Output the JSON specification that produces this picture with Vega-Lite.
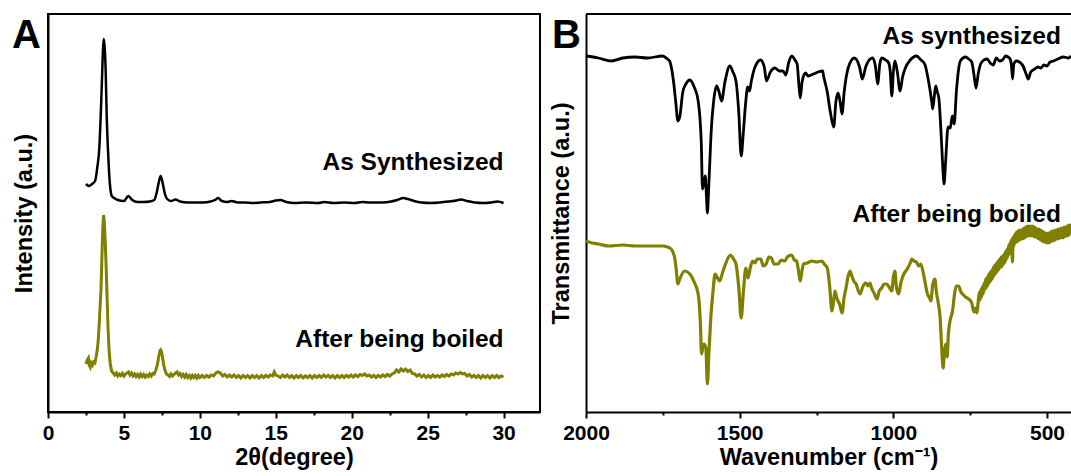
{
  "$schema": "https://vega.github.io/schema/vega-lite/v6.json",
  "background": "white",
  "padding": {"left": 11, "top": 13, "right": 0, "bottom": 0},
  "config": {
    "view": {"stroke": "black", "strokeWidth": 2},
    "font": "Liberation Sans",
    "concat": {"spacing": 8},
    "axis": {
      "grid": false,
      "domainColor": "black", "domainWidth": 2,
      "tickColor": "black", "tickWidth": 2,
      "labelFont": "Liberation Sans", "labelFontWeight": "bold", "labelFontSize": 21, "labelColor": "black",
      "titleFont": "Liberation Sans", "titleFontWeight": "bold", "titleFontSize": 23.5, "titleColor": "black",
      "labelFlush": false, "labelOverlap": false
    },
    "text": {"font": "Liberation Sans", "fontWeight": "bold", "color": "black"}
  },
  "datasets": {
    "xrdAs": [
      {"t":2.5,"v":228},{"t":2.7,"v":226},{"t":2.9,"v":228},{"t":3.1,"v":231},{"t":3.25,"v":245},{"t":3.38,"v":264},{"t":3.48,"v":300},{"t":3.55,"v":330},{"t":3.62,"v":362},{"t":3.67,"v":373},{"t":3.73,"v":365},{"t":3.8,"v":340},{"t":3.86,"v":300},{"t":3.95,"v":262},{"t":4.02,"v":240},{"t":4.1,"v":224},{"t":4.2,"v":216},{"t":4.35,"v":214},{"t":4.6,"v":212},{"t":5.0,"v":211},{"t":5.29,"v":216},{"t":5.55,"v":212},{"t":5.9,"v":210},{"t":6.3,"v":210},{"t":6.7,"v":210.5},{"t":7.0,"v":212},{"t":7.15,"v":219},{"t":7.3,"v":230},{"t":7.42,"v":236},{"t":7.55,"v":229},{"t":7.7,"v":218},{"t":7.85,"v":213},{"t":8.1,"v":211},{"t":8.4,"v":212.5},{"t":8.7,"v":210.5},{"t":9.2,"v":209.5},{"t":9.7,"v":209.5},{"t":10.2,"v":209.5},{"t":10.7,"v":210.5},{"t":11.0,"v":212},{"t":11.2,"v":214},{"t":11.45,"v":211},{"t":11.8,"v":210},{"t":12.1,"v":211},{"t":12.5,"v":209.5},{"t":13.0,"v":209.5},{"t":13.5,"v":209},{"t":14.0,"v":209.5},{"t":14.6,"v":210},{"t":15.0,"v":211.5},{"t":15.3,"v":212},{"t":15.7,"v":210},{"t":16.2,"v":209},{"t":17.0,"v":209.5},{"t":17.8,"v":209},{"t":18.2,"v":210},{"t":18.8,"v":209},{"t":19.5,"v":209.5},{"t":20.2,"v":209},{"t":20.7,"v":210},{"t":21.2,"v":209.5},{"t":22.0,"v":209.5},{"t":22.6,"v":210.5},{"t":23.0,"v":212},{"t":23.4,"v":214},{"t":23.7,"v":213},{"t":24.1,"v":211},{"t":24.6,"v":209.5},{"t":25.2,"v":209},{"t":25.8,"v":209.5},{"t":26.4,"v":210.5},{"t":26.9,"v":211.5},{"t":27.2,"v":212.5},{"t":27.6,"v":211},{"t":28.1,"v":209.5},{"t":28.7,"v":209},{"t":29.2,"v":209.5},{"t":29.6,"v":210.5},{"t":30.0,"v":209}
    ],
    "xrdBoiled": [
      {"t":2.5,"v":48},{"t":2.58,"v":52},{"t":2.66,"v":54},{"t":2.72,"v":47},{"t":2.78,"v":45},{"t":2.85,"v":49},{"t":2.93,"v":47},{"t":3.0,"v":50},{"t":3.09,"v":49},{"t":3.17,"v":55},{"t":3.25,"v":63},{"t":3.31,"v":72},{"t":3.38,"v":90},{"t":3.44,"v":108},{"t":3.49,"v":122},{"t":3.55,"v":155},{"t":3.61,"v":185},{"t":3.66,"v":197},{"t":3.71,"v":190},{"t":3.77,"v":170},{"t":3.83,"v":145},{"t":3.89,"v":115},{"t":3.95,"v":85},{"t":4.02,"v":62},{"t":4.1,"v":48},{"t":4.19,"v":41},{"t":4.3,"v":39},{"t":4.4,"v":37},{"t":4.5,"v":39},{"t":4.6,"v":36},{"t":4.7,"v":38},{"t":4.8,"v":36.5},{"t":4.9,"v":38.5},{"t":5.0,"v":36},{"t":5.1,"v":38},{"t":5.2,"v":39},{"t":5.3,"v":40},{"t":5.4,"v":37},{"t":5.5,"v":39},{"t":5.6,"v":36},{"t":5.7,"v":38},{"t":5.8,"v":35.5},{"t":5.9,"v":37.5},{"t":6.0,"v":35},{"t":6.1,"v":38},{"t":6.2,"v":35.5},{"t":6.3,"v":37.5},{"t":6.4,"v":35},{"t":6.5,"v":37},{"t":6.6,"v":35.5},{"t":6.7,"v":38},{"t":6.8,"v":36},{"t":6.9,"v":38.5},{"t":7.0,"v":38},{"t":7.1,"v":42},{"t":7.2,"v":47},{"t":7.3,"v":56},{"t":7.37,"v":61},{"t":7.42,"v":62},{"t":7.48,"v":60},{"t":7.55,"v":54},{"t":7.62,"v":47},{"t":7.7,"v":42},{"t":7.8,"v":38},{"t":7.9,"v":37},{"t":8.0,"v":35.5},{"t":8.1,"v":38},{"t":8.2,"v":36},{"t":8.3,"v":37.5},{"t":8.4,"v":39},{"t":8.5,"v":40},{"t":8.6,"v":37},{"t":8.7,"v":38.5},{"t":8.8,"v":35.5},{"t":8.9,"v":37.5},{"t":9.0,"v":35},{"t":9.1,"v":37.5},{"t":9.2,"v":34.5},{"t":9.3,"v":36.5},{"t":9.4,"v":34},{"t":9.5,"v":36.5},{"t":9.6,"v":34.5},{"t":9.7,"v":36.5},{"t":9.8,"v":34},{"t":9.9,"v":36.5},{"t":10.0,"v":34.5},{"t":10.15,"v":36.5},{"t":10.3,"v":34.5},{"t":10.45,"v":36.5},{"t":10.6,"v":35},{"t":10.75,"v":37},{"t":10.9,"v":36},{"t":11.05,"v":39},{"t":11.2,"v":40},{"t":11.35,"v":39},{"t":11.5,"v":36},{"t":11.65,"v":37.5},{"t":11.8,"v":35},{"t":11.95,"v":37},{"t":12.1,"v":35},{"t":12.25,"v":37},{"t":12.4,"v":34.5},{"t":12.55,"v":36.5},{"t":12.7,"v":34},{"t":12.85,"v":36.5},{"t":13.0,"v":34.5},{"t":13.15,"v":36.5},{"t":13.3,"v":34},{"t":13.45,"v":36.5},{"t":13.6,"v":34.5},{"t":13.75,"v":36.5},{"t":13.9,"v":34},{"t":14.05,"v":36.5},{"t":14.2,"v":34.5},{"t":14.35,"v":36.5},{"t":14.5,"v":35},{"t":14.65,"v":37},{"t":14.8,"v":36},{"t":14.9,"v":40},{"t":15.0,"v":37},{"t":15.15,"v":36},{"t":15.3,"v":34.5},{"t":15.45,"v":37},{"t":15.6,"v":35},{"t":15.75,"v":37},{"t":15.9,"v":34.5},{"t":16.05,"v":36.5},{"t":16.2,"v":34},{"t":16.35,"v":36.5},{"t":16.5,"v":34.5},{"t":16.65,"v":36.5},{"t":16.8,"v":34},{"t":16.95,"v":36},{"t":17.1,"v":34.5},{"t":17.25,"v":36.5},{"t":17.4,"v":34},{"t":17.55,"v":36.5},{"t":17.7,"v":34.5},{"t":17.85,"v":36.5},{"t":18.0,"v":34.5},{"t":18.15,"v":37},{"t":18.3,"v":35},{"t":18.45,"v":36.5},{"t":18.6,"v":34.5},{"t":18.75,"v":36.5},{"t":18.9,"v":34},{"t":19.05,"v":36.5},{"t":19.2,"v":34.5},{"t":19.35,"v":36.5},{"t":19.5,"v":34.5},{"t":19.65,"v":36.5},{"t":19.8,"v":35},{"t":19.95,"v":37},{"t":20.1,"v":35},{"t":20.25,"v":37},{"t":20.4,"v":35.5},{"t":20.55,"v":37.5},{"t":20.7,"v":36.5},{"t":20.85,"v":38},{"t":21.0,"v":36},{"t":21.15,"v":37},{"t":21.3,"v":35},{"t":21.45,"v":36.5},{"t":21.6,"v":34.5},{"t":21.75,"v":36.5},{"t":21.9,"v":35},{"t":22.05,"v":37},{"t":22.2,"v":35.5},{"t":22.35,"v":37.5},{"t":22.5,"v":36},{"t":22.65,"v":38},{"t":22.8,"v":39},{"t":22.95,"v":42},{"t":23.1,"v":40},{"t":23.25,"v":43},{"t":23.4,"v":41},{"t":23.55,"v":43},{"t":23.7,"v":40.5},{"t":23.85,"v":42},{"t":24.0,"v":38.5},{"t":24.15,"v":38},{"t":24.3,"v":36},{"t":24.45,"v":37.5},{"t":24.6,"v":35},{"t":24.75,"v":37},{"t":24.9,"v":34.5},{"t":25.05,"v":36.5},{"t":25.2,"v":34.5},{"t":25.35,"v":37},{"t":25.5,"v":35},{"t":25.65,"v":36.5},{"t":25.8,"v":35},{"t":25.95,"v":37},{"t":26.1,"v":35.5},{"t":26.25,"v":37.5},{"t":26.4,"v":36},{"t":26.55,"v":38},{"t":26.7,"v":37},{"t":26.85,"v":39},{"t":27.0,"v":38},{"t":27.15,"v":39.5},{"t":27.3,"v":38},{"t":27.45,"v":38.5},{"t":27.6,"v":36},{"t":27.75,"v":37.5},{"t":27.9,"v":35},{"t":28.05,"v":36.5},{"t":28.2,"v":34.5},{"t":28.35,"v":36.5},{"t":28.5,"v":34},{"t":28.65,"v":36.5},{"t":28.8,"v":34.5},{"t":28.95,"v":36.5},{"t":29.1,"v":34},{"t":29.25,"v":36.5},{"t":29.4,"v":34.5},{"t":29.55,"v":36.5},{"t":29.7,"v":34.5},{"t":29.85,"v":36},{"t":30.0,"v":35}
    ],
    "irAs": [
      {"w":2000,"v":356},{"w":1960,"v":354},{"w":1917,"v":351},{"w":1880,"v":354},{"w":1840,"v":355},{"w":1800,"v":354},{"w":1751,"v":356},{"w":1735,"v":353},{"w":1728,"v":351},{"w":1715,"v":330},{"w":1708,"v":310},{"w":1701,"v":291},{"w":1695,"v":295},{"w":1685,"v":320},{"w":1675,"v":328},{"w":1662,"v":332},{"w":1648,"v":325},{"w":1635,"v":311},{"w":1625,"v":270},{"w":1621,"v":223},{"w":1616,"v":230},{"w":1612,"v":236},{"w":1608,"v":215},{"w":1605,"v":199},{"w":1600,"v":230},{"w":1592,"v":284},{"w":1585,"v":310},{"w":1575,"v":326},{"w":1567,"v":320},{"w":1559,"v":311},{"w":1548,"v":330},{"w":1532,"v":346},{"w":1522,"v":340},{"w":1512,"v":331},{"w":1503,"v":300},{"w":1495,"v":256},{"w":1488,"v":280},{"w":1480,"v":311},{"w":1474,"v":325},{"w":1468,"v":321},{"w":1462,"v":331},{"w":1450,"v":345},{"w":1432,"v":352},{"w":1420,"v":345},{"w":1413,"v":331},{"w":1400,"v":340},{"w":1386,"v":344},{"w":1370,"v":341},{"w":1359,"v":341},{"w":1350,"v":337},{"w":1340,"v":350},{"w":1330,"v":356},{"w":1320,"v":352},{"w":1313,"v":348},{"w":1308,"v":330},{"w":1303,"v":314},{"w":1297,"v":330},{"w":1286,"v":339},{"w":1277,"v":336},{"w":1260,"v":338},{"w":1245,"v":340},{"w":1230,"v":341},{"w":1227,"v":336},{"w":1215,"v":320},{"w":1205,"v":300},{"w":1194,"v":285},{"w":1187,"v":310},{"w":1180,"v":319},{"w":1173,"v":310},{"w":1167,"v":298},{"w":1160,"v":320},{"w":1147,"v":344},{"w":1127,"v":354},{"w":1110,"v":345},{"w":1101,"v":333},{"w":1090,"v":345},{"w":1081,"v":351},{"w":1067,"v":354},{"w":1058,"v":345},{"w":1051,"v":328},{"w":1044,"v":348},{"w":1038,"v":354},{"w":1025,"v":352},{"w":1015,"v":349},{"w":1010,"v":340},{"w":1005,"v":316},{"w":1000,"v":340},{"w":995,"v":351},{"w":987,"v":340},{"w":978,"v":321},{"w":970,"v":335},{"w":961,"v":344},{"w":945,"v":352},{"w":925,"v":356},{"w":910,"v":352},{"w":898,"v":348},{"w":885,"v":330},{"w":875,"v":310},{"w":872,"v":303},{"w":866,"v":318},{"w":862,"v":326},{"w":857,"v":320},{"w":852,"v":314},{"w":845,"v":280},{"w":840,"v":250},{"w":835,"v":228},{"w":830,"v":250},{"w":822,"v":285},{"w":815,"v":284},{"w":808,"v":296},{"w":802,"v":288},{"w":795,"v":320},{"w":788,"v":342},{"w":782,"v":351},{"w":765,"v":355},{"w":755,"v":353},{"w":745,"v":350},{"w":738,"v":338},{"w":731,"v":324},{"w":724,"v":338},{"w":716,"v":348},{"w":705,"v":352},{"w":695,"v":353},{"w":685,"v":349},{"w":675,"v":347},{"w":665,"v":354},{"w":655,"v":351},{"w":645,"v":352},{"w":635,"v":356},{"w":627,"v":355},{"w":620,"v":353},{"w":616,"v":347},{"w":612,"v":333},{"w":608,"v":348},{"w":600,"v":351},{"w":590,"v":350},{"w":578,"v":346},{"w":568,"v":338},{"w":561,"v":333},{"w":553,"v":340},{"w":540,"v":343},{"w":530,"v":345},{"w":520,"v":344},{"w":510,"v":347},{"w":500,"v":346},{"w":490,"v":350},{"w":480,"v":351},{"w":465,"v":353},{"w":447,"v":355},{"w":430,"v":354},{"w":422,"v":356}
    ],
    "irBoiled": [
      {"w":2000,"v":171},{"w":1980,"v":169},{"w":1960,"v":168},{"w":1925,"v":166},{"w":1880,"v":167},{"w":1840,"v":166},{"w":1800,"v":166},{"w":1751,"v":166},{"w":1735,"v":165},{"w":1723,"v":163},{"w":1712,"v":155},{"w":1707,"v":144},{"w":1701,"v":128},{"w":1695,"v":133},{"w":1679,"v":141},{"w":1662,"v":138},{"w":1648,"v":130},{"w":1635,"v":118},{"w":1628,"v":90},{"w":1624,"v":58},{"w":1619,"v":66},{"w":1616,"v":68},{"w":1610,"v":64},{"w":1605,"v":28},{"w":1600,"v":60},{"w":1594,"v":94},{"w":1587,"v":120},{"w":1580,"v":138},{"w":1572,"v":134},{"w":1565,"v":131},{"w":1555,"v":140},{"w":1546,"v":148},{"w":1530,"v":157},{"w":1520,"v":153},{"w":1512,"v":148},{"w":1503,"v":125},{"w":1495,"v":94},{"w":1488,"v":120},{"w":1480,"v":144},{"w":1473,"v":134},{"w":1465,"v":145},{"w":1458,"v":151},{"w":1450,"v":149},{"w":1443,"v":153},{"w":1431,"v":153},{"w":1424,"v":146},{"w":1414,"v":148},{"w":1405,"v":155},{"w":1397,"v":154},{"w":1388,"v":148},{"w":1375,"v":148},{"w":1365,"v":152},{"w":1353,"v":151},{"w":1345,"v":155},{"w":1331,"v":157},{"w":1322,"v":152},{"w":1315,"v":151},{"w":1308,"v":140},{"w":1303,"v":131},{"w":1297,"v":142},{"w":1292,"v":148},{"w":1280,"v":149},{"w":1265,"v":151},{"w":1250,"v":150},{"w":1232,"v":151},{"w":1225,"v":148},{"w":1215,"v":144},{"w":1207,"v":125},{"w":1200,"v":101},{"w":1194,"v":112},{"w":1190,"v":121},{"w":1185,"v":115},{"w":1180,"v":111},{"w":1175,"v":108},{"w":1167,"v":99},{"w":1160,"v":115},{"w":1154,"v":124},{"w":1147,"v":136},{"w":1141,"v":141},{"w":1134,"v":135},{"w":1127,"v":130},{"w":1121,"v":128},{"w":1114,"v":121},{"w":1108,"v":118},{"w":1100,"v":125},{"w":1090,"v":129},{"w":1082,"v":126},{"w":1076,"v":129},{"w":1071,"v":124},{"w":1063,"v":119},{"w":1053,"v":113},{"w":1046,"v":121},{"w":1038,"v":124},{"w":1030,"v":128},{"w":1022,"v":128},{"w":1014,"v":125},{"w":1005,"v":121},{"w":1000,"v":135},{"w":995,"v":141},{"w":990,"v":125},{"w":983,"v":118},{"w":975,"v":130},{"w":966,"v":138},{"w":955,"v":143},{"w":945,"v":149},{"w":940,"v":153},{"w":933,"v":151},{"w":925,"v":150},{"w":918,"v":146},{"w":911,"v":148},{"w":900,"v":135},{"w":889,"v":118},{"w":882,"v":114},{"w":878,"v":111},{"w":872,"v":127},{"w":865,"v":133},{"w":860,"v":120},{"w":855,"v":111},{"w":848,"v":95},{"w":842,"v":60},{"w":838,"v":44},{"w":834,"v":60},{"w":829,"v":68},{"w":825,"v":55},{"w":821,"v":78},{"w":815,"v":92},{"w":808,"v":100},{"w":800,"v":120},{"w":795,"v":126},{"w":788,"v":126},{"w":780,"v":120},{"w":772,"v":117},{"w":765,"v":115},{"w":755,"v":113},{"w":745,"v":109},{"w":738,"v":100},{"w":733,"v":104},{"w":728,"v":99},{"w":724,"v":110},
      {"w":720,"v":120},{"w":717.5,"v":112},{"w":715,"v":123},{"w":712.5,"v":115},{"w":710,"v":126},{"w":707.5,"v":118},{"w":705,"v":129},{"w":702.5,"v":122},{"w":700,"v":133},{"w":697.5,"v":124},{"w":695,"v":135},{"w":692.5,"v":126},{"w":690,"v":138},{"w":687.5,"v":129},{"w":685,"v":140},{"w":682.5,"v":131},{"w":680,"v":142},{"w":677.5,"v":133},{"w":675,"v":145},{"w":672.5,"v":136},{"w":670,"v":147},{"w":667.5,"v":138},{"w":665,"v":149},{"w":662.5,"v":140},{"w":660,"v":151},{"w":657.5,"v":142},{"w":655,"v":153},{"w":652.5,"v":144},{"w":650,"v":155},{"w":647.5,"v":145},{"w":645,"v":156},{"w":642.5,"v":147},{"w":640,"v":158},{"w":637.5,"v":149},{"w":635,"v":161},{"w":632.5,"v":152},{"w":630,"v":163},{"w":627.5,"v":155},{"w":625,"v":167},{"w":622.5,"v":158},{"w":620,"v":170},{"w":617.5,"v":161},{"w":615,"v":173},{"w":612.5,"v":150},{"w":610,"v":175},{"w":607.5,"v":166},{"w":605,"v":178},{"w":602.5,"v":169},{"w":600,"v":180},{"w":597.5,"v":170},{"w":595,"v":181},{"w":592.5,"v":171},{"w":590,"v":182},{"w":587.5,"v":172},{"w":585,"v":182},{"w":582.5,"v":173},{"w":580,"v":183},{"w":577.5,"v":173},{"w":575,"v":184},{"w":572.5,"v":174},{"w":570,"v":185},{"w":567.5,"v":175},{"w":565,"v":186},{"w":562.5,"v":176},{"w":560,"v":186},{"w":557.5,"v":176},{"w":555,"v":186},{"w":552.5,"v":176},{"w":550,"v":186},{"w":547.5,"v":176},{"w":545,"v":186},{"w":542.5,"v":175},{"w":540,"v":185},{"w":537.5,"v":175},{"w":535,"v":184},{"w":532.5,"v":174},{"w":530,"v":183},{"w":527.5,"v":173},{"w":525,"v":183},{"w":522.5,"v":172},{"w":520,"v":182},{"w":517.5,"v":171},{"w":515,"v":181},{"w":512.5,"v":170},{"w":510,"v":180},{"w":507.5,"v":170},{"w":505,"v":179},{"w":502.5,"v":169},{"w":500,"v":179},{"w":497.5,"v":169},{"w":495,"v":179},{"w":492.5,"v":169},{"w":490,"v":180},{"w":487.5,"v":170},{"w":485,"v":181},{"w":482.5,"v":171},{"w":480,"v":181},{"w":477.5,"v":171},{"w":475,"v":182},{"w":472.5,"v":172},{"w":470,"v":182},{"w":467.5,"v":173},{"w":465,"v":183},{"w":462.5,"v":173},{"w":460,"v":183},{"w":457.5,"v":174},{"w":455,"v":184},{"w":452.5,"v":174},{"w":450,"v":184},{"w":447.5,"v":174},{"w":445,"v":185},{"w":442.5,"v":175},{"w":440,"v":185},{"w":437.5,"v":176},{"w":435,"v":186},{"w":432.5,"v":176},{"w":430,"v":187},{"w":427.5,"v":177},{"w":425,"v":187},{"w":422,"v":178}
    ],
    "labA": [
      {"t":30,"v":242,"s":"As Synthesized"},
      {"t":30,"v":65.5,"s":"After being boiled"}
    ],
    "labB": [
      {"w":455,"v":368.5,"s":"As synthesized"},
      {"w":455,"v":190.5,"s":"After being boiled"}
    ],
    "panA": [{"t":-2.37,"v":364,"s":"A"}],
    "panB": [{"w":2111,"v":364,"s":"B"}],
    "frameB": [{"v":398}]
  },
  "hconcat": [
    {
      "width": 492,
      "height": 398,
      "layer": [
        {
          "data": {"name": "xrdAs"},
          "mark": {"type": "line", "color": "black", "strokeWidth": 2.5, "interpolate": "monotone"},
          "encoding": {
            "x": {"field": "t", "type": "quantitative",
              "scale": {"domain": [0, 32.4], "nice": false, "zero": false},
              "axis": {"title": "2θ(degree)", "values": [0,2.5,5,7.5,10,12.5,15,17.5,20,22.5,25,27.5,30],
                "labelExpr": "datum.value % 5 === 0 ? datum.label : ''",
                "tickSize": {"condition": {"test": "datum.value % 5 === 0", "value": 6}, "value": 3},
                "labelPadding": 4, "titlePadding": 2}},
            "y": {"field": "v", "type": "quantitative",
              "scale": {"domain": [0, 398], "nice": false},
              "axis": {"title": "Intensity (a.u.)", "labels": false, "ticks": false, "titlePadding": 12}}
          }
        },
        {
          "data": {"name": "xrdBoiled"},
          "mark": {"type": "line", "color": "#808000", "strokeWidth": 3},
          "encoding": {"x": {"field": "t", "type": "quantitative"}, "y": {"field": "v", "type": "quantitative"}}
        },
        {
          "data": {"name": "labA"},
          "mark": {"type": "text", "align": "right", "baseline": "alphabetic", "fontSize": 24.5},
          "encoding": {"x": {"field": "t", "type": "quantitative"}, "y": {"field": "v", "type": "quantitative"}, "text": {"field": "s"}}
        },
        {
          "data": {"name": "panA"},
          "mark": {"type": "text", "align": "left", "baseline": "alphabetic", "fontSize": 40},
          "encoding": {"x": {"field": "t", "type": "quantitative"}, "y": {"field": "v", "type": "quantitative"}, "text": {"field": "s"}}
        }
      ]
    },
    {
      "width": 485,
      "height": 398,
      "view": {"stroke": null},
      "layer": [
        {
          "data": {"name": "irAs"},
          "mark": {"type": "line", "color": "black", "strokeWidth": 2.8, "interpolate": "monotone"},
          "encoding": {
            "x": {"field": "w", "type": "quantitative",
              "scale": {"domain": [422, 2000], "reverse": true, "nice": false, "zero": false},
              "axis": {"title": "Wavenumber (cm⁻¹)", "format": "d", "values": [2000,1750,1500,1250,1000,750,500],
                "labelExpr": "datum.value % 500 === 0 ? datum.label : ''",
                "tickSize": {"condition": {"test": "datum.value % 500 === 0", "value": 6}, "value": 3},
                "labelPadding": 4, "titlePadding": 2}},
            "y": {"field": "v", "type": "quantitative",
              "scale": {"domain": [0, 398], "nice": false},
              "axis": {"title": "Transmittance (a.u.)", "labels": false, "ticks": false, "titlePadding": 13}}
          }
        },
        {
          "data": {"name": "irBoiled"},
          "mark": {"type": "line", "color": "#808000", "strokeWidth": 3.2, "interpolate": "monotone"},
          "encoding": {"x": {"field": "w", "type": "quantitative"}, "y": {"field": "v", "type": "quantitative"}}
        },
        {
          "data": {"name": "frameB"},
          "mark": {"type": "rule", "color": "black", "strokeWidth": 2},
          "encoding": {"y": {"field": "v", "type": "quantitative"}}
        },
        {
          "data": {"name": "labB"},
          "mark": {"type": "text", "align": "right", "baseline": "alphabetic", "fontSize": 24.5},
          "encoding": {"x": {"field": "w", "type": "quantitative"}, "y": {"field": "v", "type": "quantitative"}, "text": {"field": "s"}}
        },
        {
          "data": {"name": "panB"},
          "mark": {"type": "text", "align": "left", "baseline": "alphabetic", "fontSize": 40},
          "encoding": {"x": {"field": "w", "type": "quantitative"}, "y": {"field": "v", "type": "quantitative"}, "text": {"field": "s"}}
        }
      ]
    }
  ]
}
